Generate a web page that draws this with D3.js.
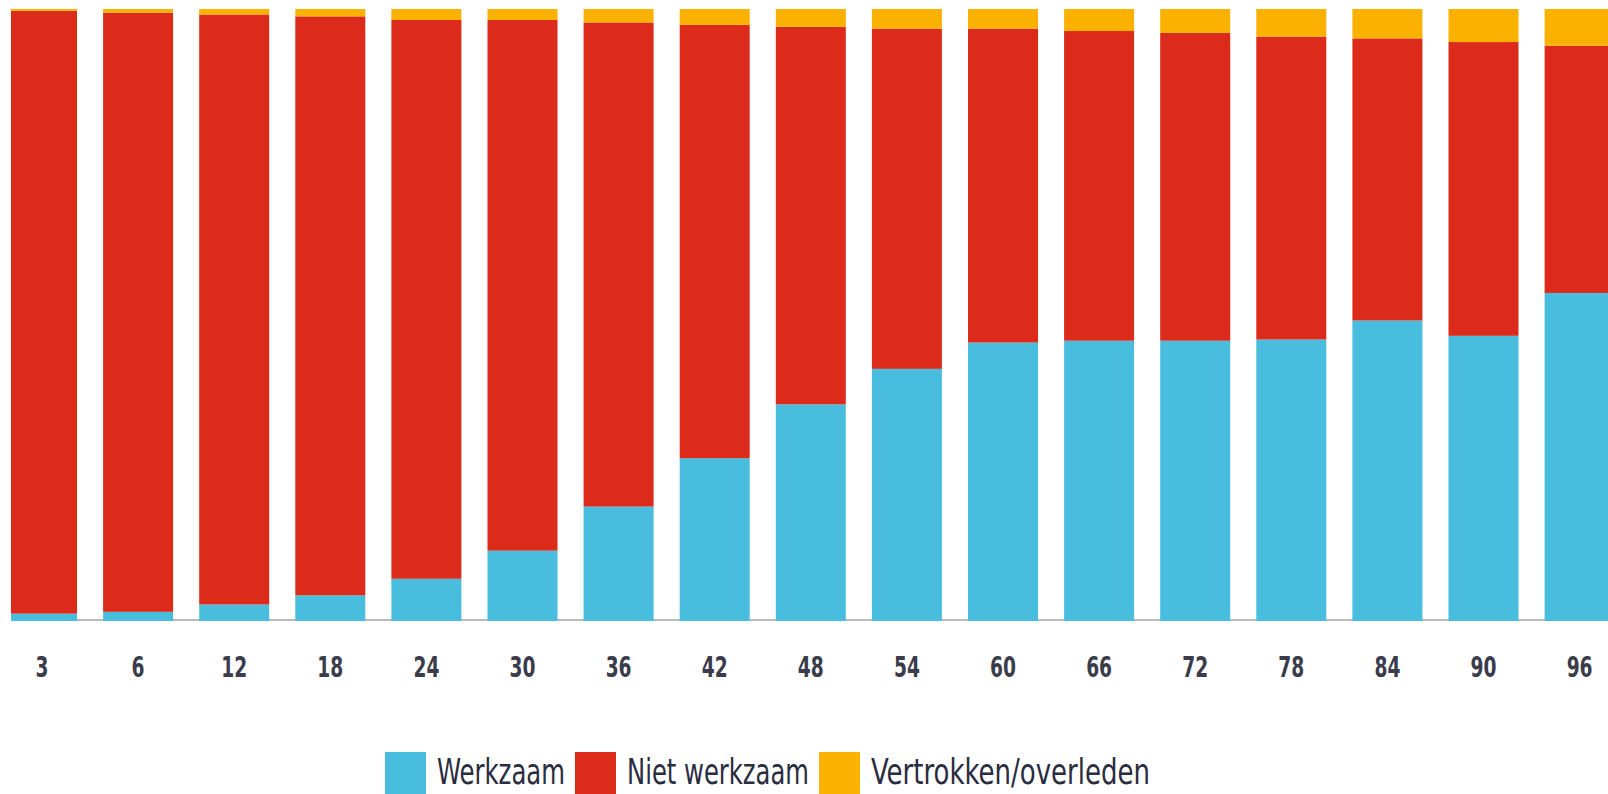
<!DOCTYPE html>
<html lang="nl">
<head>
<meta charset="utf-8">
<title>Werkzaam na maanden</title>
<script src="https://d3js.org/d3.v7.min.js"></script>
<style>
  html, body { margin: 0; padding: 0; background: #fff; overflow: hidden; }
  .tick text { font-family: "DejaVu Sans Condensed", "Liberation Sans Narrow", sans-serif; font-weight: bold; fill: #3b3c4b; }
  .legend text { font-family: "DejaVu Sans Condensed", "Liberation Sans Narrow", sans-serif; fill: #2a2c40; }
</style>
</head>
<body>
<div id="chart"></div>
<script>
// months since start
var months = ["3", "6", "12", "18", "24", "30", "36", "42", "48", "54", "60", "66", "72", "78", "84", "90", "96"];
// share in %
var werkzaam   = [1.2, 1.5, 2.7, 4.2, 6.9, 11.5, 18.7, 26.6, 35.4, 41.2, 45.5, 45.8, 45.8, 46.0, 49.1, 46.6, 53.6];
var vertrokken = [0.3, 0.6, 0.9, 1.2, 1.8, 1.8, 2.2, 2.6, 2.9, 3.2, 3.2, 3.6, 3.9, 4.5, 4.8, 5.4, 6.0];
var nietWerkzaam = werkzaam.map(function(d, i) { return +(100 - d - vertrokken[i]).toFixed(1); });

var seriesKeys = ["Werkzaam", "Niet werkzaam", "Vertrokken/overleden"];
var colors = ["#48bdde", "#dc2a1b", "#fbb100"];

var w = 1608, h = 794;

var rows = months.map(function(m, i) {
  return { month: m, "Werkzaam": werkzaam[i], "Niet werkzaam": nietWerkzaam[i], "Vertrokken/overleden": vertrokken[i] };
});

var svg = d3.select("#chart").append("svg")
  .attr("width", w)
  .attr("height", h);

svg.append("defs").append("clipPath").attr("id", "plotclip")
  .append("rect").attr("x", 11).attr("y", 0).attr("width", w - 11).attr("height", h);

var x = d3.scaleBand()
  .domain(months)
  .range([7, 7 + 96.1 * (months.length - 0.2716)])
  .paddingInner(0.2716)
  .paddingOuter(0);

var y = d3.scaleLinear().domain([0, 100]).range([621, 9]);

var color = d3.scaleOrdinal().domain(seriesKeys).range(colors);

var stacked = d3.stack().keys(seriesKeys)(rows);

var plot = svg.append("g").attr("clip-path", "url(#plotclip)");

// baseline
plot.append("line")
  .attr("x1", 11).attr("x2", w)
  .attr("y1", 620).attr("y2", 620)
  .attr("stroke", "#a3a3a3")
  .attr("stroke-width", 1.5);

plot.selectAll("g.layer")
  .data(stacked)
  .enter()
  .append("g")
  .attr("class", "layer")
  .attr("fill", function(d) { return color(d.key); })
  .selectAll("rect")
  .data(function(d) { return d; })
  .enter()
  .append("rect")
    .attr("x", function(d) { return x(d.data.month); })
    .attr("width", x.bandwidth())
    .attr("y", function(d) { return y(d[1]); })
    .attr("height", function(d) { return y(d[0]) - y(d[1]); });

// month labels, squeezed to look condensed
var xAxis = svg.append("g")
  .attr("transform", "translate(0,621)")
  .call(d3.axisBottom(x).tickSize(0).tickPadding(36));
xAxis.select(".domain").remove();
xAxis.selectAll(".tick text")
  .style("font-size", "28px")
  .each(function() {
    var len = this.getComputedTextLength();
    d3.select(this).attr("textLength", len * 0.74).attr("lengthAdjust", "spacingAndGlyphs");
  });

// legend
var legendWidths = [128, 182, 279];
var legend = svg.append("g").attr("class", "legend");
var lx = 385;
seriesKeys.forEach(function(k, i) {
  legend.append("rect")
    .attr("x", lx).attr("y", 752)
    .attr("width", 41).attr("height", 42)
    .attr("fill", color(k));
  legend.append("text")
    .attr("x", lx + 52)
    .attr("y", 784)
    .attr("textLength", legendWidths[i])
    .attr("lengthAdjust", "spacingAndGlyphs")
    .style("font-size", "36px")
    .text(k);
  lx += 52 + legendWidths[i] + 10;
});
</script>
</body>
</html>
